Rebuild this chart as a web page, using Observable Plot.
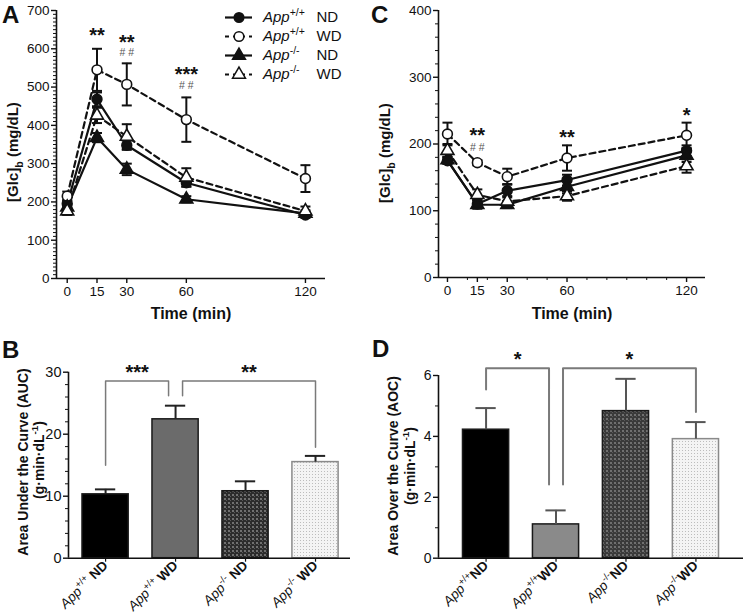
<!DOCTYPE html>
<html><head><meta charset="utf-8">
<script src="https://cdn.jsdelivr.net/npm/d3@7"></script>
<script src="https://cdn.jsdelivr.net/npm/@observablehq/plot@0.6"></script>
<style>
body{margin:0;background:#fff;}
#page{position:relative;width:745px;height:614px;overflow:hidden;background:#fff;font-family:"Liberation Sans",Arial,sans-serif;}
#page svg{position:absolute;}
</style></head><body><div id="page"></div>
<script>
// ---------- data ----------
const time = [0, 15, 30, 60, 120];
const seriesNames = ["App+/+ ND", "App+/+ WD", "App-/- ND", "App-/- WD"];

// Panel A: OGTT [Glc]b (mg/dL)
const aWtND = [195, 468, 348, 250, 166];
const aWtNDErr = [10, 18, 12, 10, 8];
const aWtWD = [215, 545, 507, 415, 261];
const aWtWDErr = [12, 55, 55, 58, 35];
const aKoND = [186, 368, 285, 207, 170];
const aKoNDErr = [8, 12, 15, 8, 8];
const aKoWD = [176, 426, 371, 264, 176];
const aKoWDErr = [10, 20, 32, 24, 12];
const aStarT = [15, 30, 60];
const aStarY = [639, 621, 539];
const aStarText = ["**", "**", "***"];
const aHashT = [30, 60];
const aHashY = [591, 504];

// Panel C: ITT [Glc]b (mg/dL)
const cWtND = [175, 110, 130, 146, 190];
const cWtNDErr = [5, 6, 10, 8, 8];
const cWtWD = [215, 172, 151, 179, 213];
const cWtWDErr = [17, 4, 12, 19, 19];
const cKoND = [176, 109, 109, 136, 183];
const cKoNDErr = [5, 6, 5, 10, 10];
const cKoWD = [190, 124, 114, 122, 167];
const cKoWDErr = [10, 8, 8, 7, 10];
const cStarT = [15, 60, 120];
const cStarY = [216, 213, 245];
const cStarText = ["**", "**", "*"];
const cHashT = [15];
const cHashY = [195];

// Panel B: AUC
const aucVals = [10.3, 22.4, 10.8, 15.5];
const aucErr = [0.8, 2.2, 1.6, 1.0];
const bFrom = [0, 1], bTo = [1, 3];
const bFromY = [15, 26.2], bToY = [26.2, 17.9], bTop = [28.6, 28.6];
const bLabel = ["***", "**"], bStarY = [30.3, 30.3];

// Panel D: AOC
const aocVals = [4.22, 1.11, 4.83, 3.91];
const aocErr = [0.71, 0.46, 1.06, 0.56];
const dFrom = [0, 1], dTo = [1, 3];
const dFromY = [5.54, 2.42], dToY = [2.42, 4.8], dTop = [6.24, 6.24];
const dLabel = ["*", "*"], dStarY = [6.6, 6.6];

// ---------- helpers ----------
const ink = "#111";
const FONT = "'Liberation Sans', Arial, sans-serif";
const page = document.getElementById("page");
const hline = {draw(ctx, size) { const r = Math.sqrt(size / Math.PI); ctx.moveTo(-r, 0); ctx.lineTo(r, 0); }};
const isWD = n => n.endsWith("WD");
const isKO = n => n.includes("-/-");

function place(svg, left, top) { svg.style.left = left + "px"; svg.style.top = top + "px"; page.appendChild(svg); return svg; }

function linePanel(o) {
  const rows = o.series.flatMap(s => time.map((t, i) => ({t, y: s.vals[i], err: s.errs[i], name: s.name})));
  const stars = o.starT.map((t, i) => {
    const h = o.hashT.indexOf(t);
    return {t, y: o.starY[i], label: o.starText[i], hashY: h >= 0 ? o.hashY[h] : null};
  });
  const dots = o.series.map(s => Plot.dot(rows.filter(d => d.name === s.name), {
    x: "t", y: "y", symbol: isKO(s.name) ? "triangle" : "circle", r: isKO(s.name) ? 4.8 : 4.9,
    fill: isWD(s.name) ? "white" : ink, stroke: ink, strokeWidth: 1.6
  }));
  const svg = Plot.plot({
    width: o.width, height: o.height,
    marginLeft: o.m[0], marginRight: o.m[1], marginTop: o.m[2], marginBottom: o.m[3],
    x: {domain: o.xDomain}, y: {domain: o.yDomain},
    style: {fontFamily: FONT, fontSize: "13.5px", color: ink, background: "white", overflow: "visible"},
    marks: [
      Plot.axisY(o.yMinor, {tickSize: 3, fill: "none", label: null, strokeWidth: 1}),
      Plot.axisY(o.yMajor, {tickSize: 5, tickPadding: 2, label: null, strokeWidth: 1.4, fontSize: 13.5}),
      o.xMinor ? Plot.axisX(o.xMinor, {tickSize: 3, fill: "none", label: null, strokeWidth: 1}) : null,
      Plot.axisX(time, {tickSize: 5, tickPadding: 3, label: null, strokeWidth: 1.4, fontSize: 13.5}),
      Plot.ruleY([o.yDomain[0]], {stroke: ink, strokeWidth: 1.6}),
      Plot.ruleX([o.xDomain[0]], {stroke: ink, strokeWidth: 1.6}),
      Plot.ruleX(rows, {x: "t", y1: d => d.y - d.err, y2: d => d.y + d.err, stroke: ink, strokeWidth: 2}),
      Plot.dot(rows, {x: "t", y: d => d.y + d.err, symbol: hline, r: 5, stroke: ink, strokeWidth: 2, fill: "none"}),
      Plot.dot(rows, {x: "t", y: d => d.y - d.err, symbol: hline, r: 5, stroke: ink, strokeWidth: 2, fill: "none"}),
      Plot.line(rows.filter(d => !isWD(d.name)), {x: "t", y: "y", z: "name", stroke: ink, strokeWidth: 2.2}),
      Plot.line(rows.filter(d => isWD(d.name)), {x: "t", y: "y", z: "name", stroke: ink, strokeWidth: 2.2, strokeDasharray: "6,4"}),
      ...dots,
      Plot.text(stars, {x: "t", y: "y", text: "label", fontSize: 20, fontWeight: "bold", fill: ink, dy: 2})
    ]
  });
  // the "# #" marks sit under their stars: add them as a second, smaller line of the same annotation
  const ys = svg.scale("y");
  d3.select(svg).selectAll('g[aria-label="text"] text').each(function(_, i) {
    const s = stars[i];
    if (!s || s.hashY == null) return;
    const gap = (ys.apply(s.hashY) - ys.apply(s.y)) - 4.7;
    const px = this.getAttribute("x");
    d3.select(this).append("tspan").attr("x", px == null ? 0 : px).attr("dy", gap)
      .attr("font-size", 10.5).attr("font-weight", "normal").attr("fill", "#555").text("# #");
  });
  return svg;
}

function richText(sel, parts, size) {
  let shift = 0;
  for (const [txt, kind, extra] of parts) {
    const want = kind === "sup" ? -0.42 * size : kind === "sub" ? 0.3 * size : 0;
    const ts = sel.append("tspan").text(txt);
    if (want !== shift) { ts.attr("dy", want - shift); shift = want; }
    if (kind === "sup" || kind === "sub") ts.attr("font-size", 0.7 * size);
    if (kind === "i") ts.attr("font-style", "italic");
    if (kind === "b") ts.attr("font-weight", "bold");
    if (extra && extra.x !== undefined) ts.attr("x", extra.x);
  }
}
function nameParts(name, space) {
  const m = name.match(/^App(\S+) (\w+)$/);
  return [["App", "i"], [m[1], "sup"], [(space ? " " : "") + m[2], "b"]];
}

const barTickFont = 13.5;
function barPanel(o) {
  const rows = seriesNames.map((c, i) => ({i, cat: c, v: o.vals[i], e: o.errs[i]}));
  const half = 0.33, capHalf = 0.145, gap = 0.1, shared = 1;
  const legs = o.from.map((f, k) => {
    const xl = f + (f === shared ? gap : 0), xr = o.to[k] - (o.to[k] === shared ? gap : 0);
    return [{k, x: xl, y: o.fromY[k]}, {k, x: xl, y: o.top[k]}, {k, x: xr, y: o.top[k]}, {k, x: xr, y: o.toY[k]}];
  }).flat();
  const stars = o.from.map((f, k) => ({x: (f + (f === shared ? gap : 0) + o.to[k] - (o.to[k] === shared ? gap : 0)) / 2, y: o.starY[k], label: o.label[k]}));
  const svg = Plot.plot({
    width: o.width, height: o.height,
    marginLeft: o.m[0], marginRight: o.m[1], marginTop: o.m[2], marginBottom: o.m[3],
    x: {domain: o.xDomain}, y: {domain: o.yDomain},
    color: {domain: seriesNames, range: o.fills},
    style: {fontFamily: FONT, fontSize: "14px", color: ink, background: "white", overflow: "visible"},
    marks: [
      Plot.axisY(o.yMinor, {tickSize: 3, fill: "none", label: null, strokeWidth: 1}),
      Plot.axisY(o.yMajor, {tickSize: 5, tickPadding: 2, label: null, strokeWidth: 1.4, fontSize: o.tickFont}),
      Plot.axisX(rows.map(d => d.i), {tickSize: 4, tickPadding: 1, tickRotate: -45, tickFormat: i => seriesNames[i], label: null, fontSize: barTickFont, strokeWidth: 1.2}),
      Plot.rectY(rows, {x1: d => d.i - half, x2: d => d.i + half, y: "v", fill: "cat", stroke: d => d.i === 3 ? "#8a8a8a" : "#1a1a1a", strokeWidth: 1.5}),
      Plot.ruleX(rows, {x: "i", y1: "v", y2: d => d.v + d.e, stroke: o.errColor, strokeWidth: 2}),
      Plot.ruleY(rows, {y: d => d.v + d.e, x1: d => d.i - capHalf, x2: d => d.i + capHalf, stroke: o.errColor, strokeWidth: 2}),
      Plot.line(legs, {x: "x", y: "y", z: "k", stroke: "#7a7a7a", strokeWidth: o.bracketWidth}),
      Plot.text(stars, {x: "x", y: "y", text: "label", fontSize: 20, fontWeight: "bold", fill: ink, dy: 2}),
      Plot.ruleY([o.yDomain[0]], {stroke: ink, strokeWidth: 1.6}),
      Plot.ruleX([o.xDomain[0]], {stroke: ink, strokeWidth: 1.6})
    ]
  });
  const defs = d3.select(svg).insert("defs", ":first-child");
  const p3 = defs.append("pattern").attr("id", o.id + "3").attr("width", 4).attr("height", 4).attr("patternUnits", "userSpaceOnUse");
  p3.append("rect").attr("width", 4).attr("height", 4).attr("fill", o.dark);
  p3.append("rect").attr("width", 2).attr("height", 2).attr("fill", "#707070");
  p3.append("rect").attr("x", 2).attr("y", 2).attr("width", 1).attr("height", 1).attr("fill", "#5a5a5a");
  const p4 = defs.append("pattern").attr("id", o.id + "4").attr("width", 3).attr("height", 3).attr("patternUnits", "userSpaceOnUse");
  p4.append("rect").attr("width", 3).attr("height", 3).attr("fill", "#f4f4f4");
  p4.append("rect").attr("width", 1).attr("height", 1).attr("fill", "#bdbdbd");
  d3.select(svg).selectAll('g[aria-label="x-axis tick label"] text').each(function() {
    const t = d3.select(this); const s = t.text();
    if (!s.startsWith("App")) return;
    t.text(null);
    richText(t, nameParts(s, o.space), barTickFont);
  });
  return svg;
}

// ---------- panels ----------
const seriesA = [
  {name: seriesNames[0], vals: aWtND, errs: aWtNDErr},
  {name: seriesNames[1], vals: aWtWD, errs: aWtWDErr},
  {name: seriesNames[2], vals: aKoND, errs: aKoNDErr},
  {name: seriesNames[3], vals: aKoWD, errs: aKoWDErr}
];
const seriesC = [
  {name: seriesNames[0], vals: cWtND, errs: cWtNDErr},
  {name: seriesNames[1], vals: cWtWD, errs: cWtWDErr},
  {name: seriesNames[2], vals: cKoND, errs: cKoNDErr},
  {name: seriesNames[3], vals: cKoWD, errs: cKoWDErr}
];

place(linePanel({
  series: seriesA, width: 370, height: 325, m: [56, 45, 10, 47],
  xDomain: [-5.4, 130.1], yDomain: [0, 700],
  yMajor: d3.range(0, 701, 100), yMinor: d3.range(0, 701, 10).filter(v => v % 100),
  xMinor: null,
  starT: aStarT, starY: aStarY, starText: aStarText, hashT: aHashT, hashY: aHashY
}), 0, 0);

place(linePanel({
  series: seriesC, width: 375, height: 325, m: [68, 40, 10, 48],
  xDomain: [-4.5, 129.5], yDomain: [0, 400],
  yMajor: d3.range(0, 401, 100), yMinor: d3.range(0, 401, 20).filter(v => v % 100),
  xMinor: [10, 20, 40, 50, 70, 80, 90, 100, 110],
  starT: cStarT, starY: cStarY, starText: cStarText, hashT: cHashT, hashY: cHashY
}), 370, 0);

place(barPanel({
  id: "patB", vals: aucVals, errs: aucErr, width: 370, height: 284, m: [68, 20, 41.7, 56.3],
  xDomain: [-0.53, 3.5], yDomain: [0, 30], yMajor: [0, 10, 20, 30], yMinor: d3.range(0, 31, 2).filter(v => v % 10),
  fills: ["#000000", "#6b6b6b", "url(#patB3)", "url(#patB4)"], dark: "#2c2c2c",
  errColor: "#222", bracketWidth: 1.5, tickFont: 14.5, space: true,
  from: bFrom, to: bTo, fromY: bFromY, toY: bToY, top: bTop, label: bLabel, starY: bStarY
}), 0, 330);

place(barPanel({
  id: "patD", vals: aocVals, errs: aocErr, width: 375, height: 284, m: [68, 2, 45, 56.3],
  xDomain: [-0.68, 3.68], yDomain: [0, 6], yMajor: [0, 2, 4, 6], yMinor: [1, 3, 5],
  fills: ["#000000", "#8a8a8a", "url(#patD3)", "url(#patD4)"], dark: "#3a3a3a",
  errColor: "#555", bracketWidth: 2, tickFont: 14, space: false,
  from: dFrom, to: dTo, fromY: dFromY, toY: dToY, top: dTop, label: dLabel, starY: dStarY
}), 370, 330);

// legend swatches
const legendSvg = Plot.plot({
  width: 33, height: 90, marginLeft: 3, marginRight: 3, marginTop: 17, marginBottom: 16,
  y: {type: "point", domain: seriesNames, padding: 0, axis: null},
  style: {background: "transparent", overflow: "visible"},
  marks: [
    Plot.ruleY(seriesNames.filter(n => !isWD(n)), {y: d => d, stroke: ink, strokeWidth: 2.2}),
    Plot.ruleY(seriesNames.filter(n => isWD(n)), {y: d => d, stroke: ink, strokeWidth: 2, strokeDasharray: "4,4"}),
    ...seriesNames.map(n => Plot.dot([n], {y: d => d, symbol: isKO(n) ? "triangle" : "circle", r: 4.8,
      fill: isWD(n) ? "white" : ink, stroke: ink, strokeWidth: 1.5}))
  ]
});
place(legendSvg, 222, 0);

// ---------- overlay texts ----------
const ov = d3.select(page).append("svg").attr("width", 745).attr("height", 614)
  .style("left", "0px").style("top", "0px").style("pointer-events", "none")
  .attr("font-family", FONT).attr("fill", ink);

[["A", 2, 23], ["C", 371, 23], ["B", 2, 358], ["D", 372, 357]].forEach(([t, x, y]) =>
  ov.append("text").attr("x", x).attr("y", y).attr("font-size", 24).attr("font-weight", "bold").text(t));

function rotLabel(cx, cy, size, parts) {
  const t = ov.append("text").attr("transform", `translate(${cx},${cy}) rotate(-90)`)
    .attr("text-anchor", "middle").attr("dy", "0.35em").attr("font-size", size).attr("font-weight", "bold");
  richText(t, parts, size);
}
rotLabel(13, 152, 15, [["[Glc]", ""], ["b", "sub"], [" (mg/dL)", ""]]);
rotLabel(385, 153, 15, [["[Glc]", ""], ["b", "sub"], [" (mg/dL)", ""]]);
rotLabel(23, 462, 14, [["Area Under the Curve (AUC)", ""]]);
rotLabel(39, 460, 14, [["(g·min·dL", ""], ["-1", "sup"], [")", ""]]);
rotLabel(393, 466, 14, [["Area Over the Curve (AOC)", ""]]);
rotLabel(410, 466, 14, [["(g·min·dL", ""], ["-1", "sup"], [")", ""]]);

[[191, 313], [572, 313]].forEach(([x, y]) =>
  ov.append("text").attr("x", x).attr("y", y).attr("dy", "0.35em").attr("text-anchor", "middle")
    .attr("font-size", 16).attr("font-weight", "bold").text("Time (min)"));

// legend labels aligned with the swatch rows
const legendY = d3.scalePoint().domain(seriesNames).range([17, 74]);
seriesNames.forEach(n => {
  const m = n.match(/^App(\S+) (\w+)$/);
  const t = ov.append("text").attr("x", 263).attr("y", legendY(n)).attr("dy", "0.35em").attr("font-size", 15);
  richText(t, [["App", "i"], [m[1], "sup"], [m[2], "", {x: 316.5}]], 15);
});
</script></body></html>
